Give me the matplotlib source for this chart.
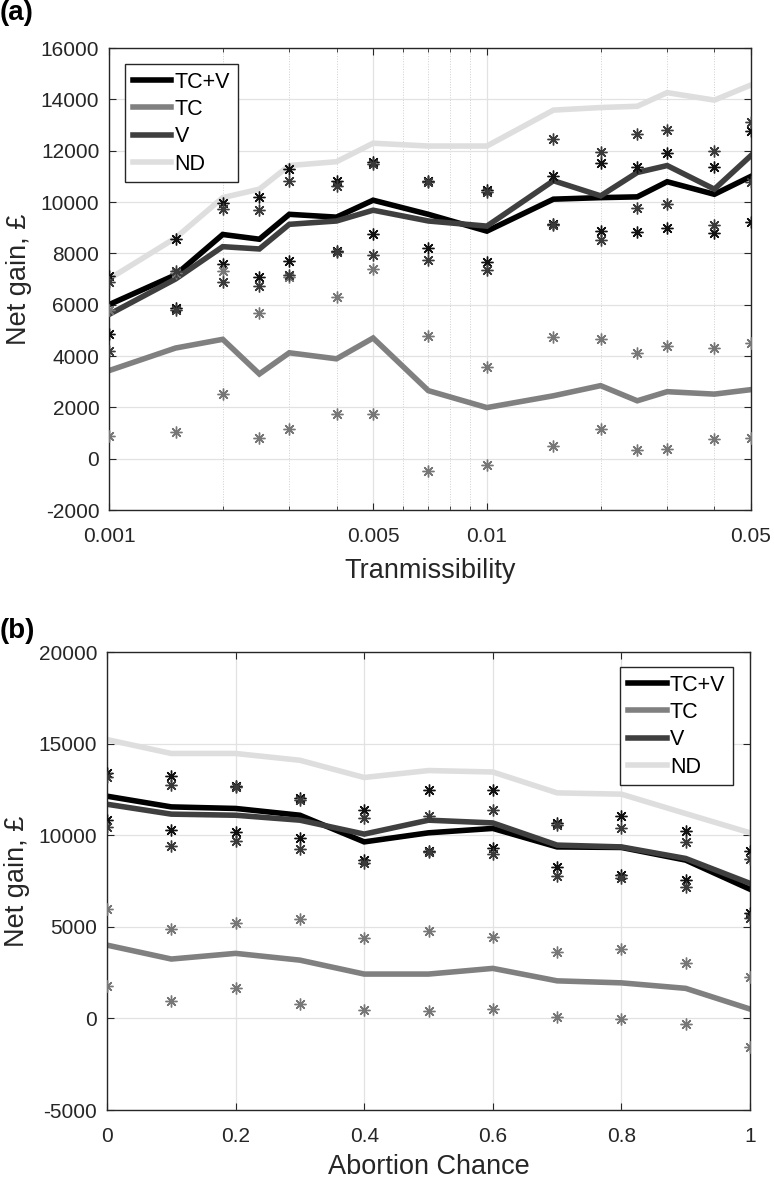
import matplotlib
matplotlib.use('Agg')
import matplotlib.pyplot as plt
from matplotlib.ticker import FixedLocator, FixedFormatter, LogLocator, NullFormatter

plt.rcParams['font.family'] = ['Liberation Sans', 'DejaVu Sans']
plt.rcParams['axes.unicode_minus'] = False

# ---- panel (a): transmissibility ----
trans = [0.001, 0.0015, 0.002, 0.0025, 0.003, 0.004, 0.005, 0.007,
         0.01, 0.015, 0.02, 0.025, 0.03, 0.04, 0.05]
a_tcv = [6000, 7160, 8735, 8550, 9520, 9410, 10070, 9520,
         8865, 10110, 10170, 10200, 10790, 10300, 11000]
a_tc = [3430, 4310, 4650, 3300, 4125, 3890, 4700, 2650,
        1990, 2450, 2845, 2255, 2610, 2515, 2690]
a_v = [5620, 7000, 8260, 8170, 9130, 9260, 9680, 9260,
       9060, 10830, 10240, 11150, 11420, 10500, 11810]
a_nd = [7000, 8600, 10170, 10500, 11420, 11570, 12290, 12180,
        12180, 13580, 13680, 13730, 14260, 13970, 14560]

a_tcv_hi = [7100, 8540, 9980, 10200, 11290, 10830, 11540, 10820,
            10470, 11020, 11510, 11350, 11920, 11380, 12760]
a_tcv_lo = [4870, 5880, 7580, 7060, 7710, 8080, 8760, 8210,
            7660, 9150, 8865, 8840, 8990, 8800, 9230]
a_v_hi = [6900, 7300, 9720, 9680, 10830, 10630, 11480, 10760,
          10400, 12470, 11940, 12660, 12820, 11980, 13120]
a_v_lo = [4180, 5790, 6900, 6730, 7160, 8040, 7950, 7750,
          7360, 9100, 8500, 9780, 9940, 9100, 10760]
a_tc_hi = [5790, 7250, 7320, 5660, 7060, 6310, 7400, 4780,
           3590, 4730, 4670, 4125, 4390, 4310, 4520]
a_tc_lo = [880, 1040, 2515, 810, 1170, 1730, 1730, -490,
           -260, 490, 1170, 330, 380, 750, 810]

# ---- panel (b): abortion chance ----
abort = [0, 0.1, 0.2, 0.3, 0.4, 0.5, 0.6, 0.7, 0.8, 0.9, 1.0]
b_tcv = [12130, 11545, 11460, 11090, 9635, 10130, 10370, 9360, 9330, 8640, 7050]
b_tc = [4000, 3240, 3550, 3180, 2420, 2420, 2730, 2050, 1940, 1640, 510]
b_v = [11690, 11150, 11090, 10820, 10060, 10820, 10670, 9460, 9360, 8730, 7370]
b_nd = [15220, 14460, 14460, 14090, 13150, 13530, 13450, 12310, 12240, 11180, 10130]

b_tcv_hi = [13370, 13220, 12690, 12040, 11400, 12490, 12490, 10670, 11040, 10240, 9140]
b_tcv_lo = [10820, 10270, 10150, 9820, 8640, 9140, 9280, 8270, 7820, 7550, 5760]
b_v_hi = [13180, 12730, 12650, 11910, 10940, 11040, 11400, 10550, 10420, 9640, 8680]
b_v_lo = [10450, 9420, 9670, 9220, 8460, 9100, 9000, 7780, 7640, 7180, 5460]
b_tc_hi = [5950, 4860, 5220, 5400, 4400, 4760, 4420, 3630, 3770, 3000, 2240]
b_tc_lo = [1760, 950, 1670, 780, 455, 420, 490, 90, -50, -310, -1580]

names = ['TC+V', 'TC', 'V', 'ND']
colors = ['#000000', '#808080', '#3f3f3f', '#dedede']
mark_colors = ['#111111', '#777777', '#3a3a3a']

AX_COL = '#262626'
GRID_COL = '#e2e2e2'
TICK_FS = 15
LABEL_FS = 19.5
LW = 4.0
STAR = (8, 2, 0)


def style_axes(ax):
        for sp in ax.spines.values():
                sp.set_color(AX_COL)
                sp.set_linewidth(1.0)
        ax.tick_params(which='both', direction='in', top=True, right=True,
                       colors=AX_COL, labelcolor='#262626',
                       labelsize=TICK_FS)
        ax.tick_params(which='major', length=5, width=0.8, pad=7)
        ax.tick_params(which='minor', length=3, width=0.6)
        ax.tick_params(axis='x', which='major', pad=12)
        ax.set_axisbelow(True)


def draw_panel(ax, x, lines, bounds):
        for y, name, col in zip(lines, names, colors):
                ax.plot(x, y, color=col, lw=LW, label=name,
                        solid_joinstyle='miter', zorder=2)
        for (hi, lo), col in zip(bounds, mark_colors):
                ax.plot(x, hi, ls='none', marker=STAR, ms=8.5, mew=1.0,
                        color=col, zorder=3)
                ax.plot(x, lo, ls='none', marker=STAR, ms=8.5, mew=1.0,
                        color=col, zorder=3)


def add_legend(ax, loc, anchor):
        leg = ax.legend(loc=loc, bbox_to_anchor=anchor, borderaxespad=0,
                        fontsize=15.5, frameon=True, fancybox=False,
                        edgecolor='#262626', framealpha=1, handlelength=1.8,
                        handletextpad=0.15, labelspacing=0.3, borderpad=0.35)
        leg.get_frame().set_linewidth(1.0)


fig = plt.figure(figsize=(7.74, 11.81), dpi=100)

# panel (a)
ax1 = fig.add_axes([109 / 774, 1 - 510 / 1181, 642 / 774, 462 / 1181])
draw_panel(ax1, trans, [a_tcv, a_tc, a_v, a_nd],
           [(a_tcv_hi, a_tcv_lo), (a_tc_hi, a_tc_lo), (a_v_hi, a_v_lo)])
ax1.set_xscale('log')
ax1.set_xlim(0.001, 0.05)
ax1.set_ylim(-2000, 16000)
ax1.set_yticks(range(-2000, 16001, 2000))
ax1.xaxis.set_major_locator(FixedLocator([0.001, 0.005, 0.01, 0.05]))
ax1.xaxis.set_major_formatter(FixedFormatter(['0.001', '0.005', '0.01', '0.05']))
ax1.xaxis.set_minor_locator(LogLocator(base=10, subs=range(2, 10)))
ax1.xaxis.set_minor_formatter(NullFormatter())
ax1.grid(True, which='major', color=GRID_COL, lw=0.9)
ax1.grid(True, which='minor', axis='x', color='#cfcfcf', lw=0.7, ls=':')
style_axes(ax1)
ax1.set_xlabel('Tranmissibility', fontsize=LABEL_FS, color='#262626', labelpad=9)
ax1.set_ylabel('Net gain, £', fontsize=LABEL_FS, color='#262626', labelpad=6)
add_legend(ax1, 'upper left', (16 / 642, 1 - 16 / 462))

# panel (b)
ax2 = fig.add_axes([107 / 774, 1 - 1110 / 1181, 643 / 774, 458 / 1181])
draw_panel(ax2, abort, [b_tcv, b_tc, b_v, b_nd],
           [(b_tcv_hi, b_tcv_lo), (b_tc_hi, b_tc_lo), (b_v_hi, b_v_lo)])
ax2.set_xlim(0, 1)
ax2.set_ylim(-5000, 20000)
ax2.set_yticks(range(-5000, 20001, 5000))
ax2.set_xticks([0, 0.2, 0.4, 0.6, 0.8, 1.0])
ax2.set_xticklabels(['0', '0.2', '0.4', '0.6', '0.8', '1'])
ax2.grid(True, which='major', color=GRID_COL, lw=0.9)
style_axes(ax2)
ax2.set_xlabel('Abortion Chance', fontsize=LABEL_FS, color='#262626', labelpad=6)
ax2.set_ylabel('Net gain, £', fontsize=LABEL_FS, color='#262626', labelpad=6)
add_legend(ax2, 'upper right', (1 - 17 / 643, 1 - 15 / 458))

fig.text(0.0, 1.0, '(a)', fontsize=20, fontweight='bold', ha='left', va='top')
fig.text(0.0, 1 - 618 / 1181, '(b)', fontsize=20, fontweight='bold', ha='left', va='top')

fig.savefig('out.png', dpi=100, facecolor='white')
